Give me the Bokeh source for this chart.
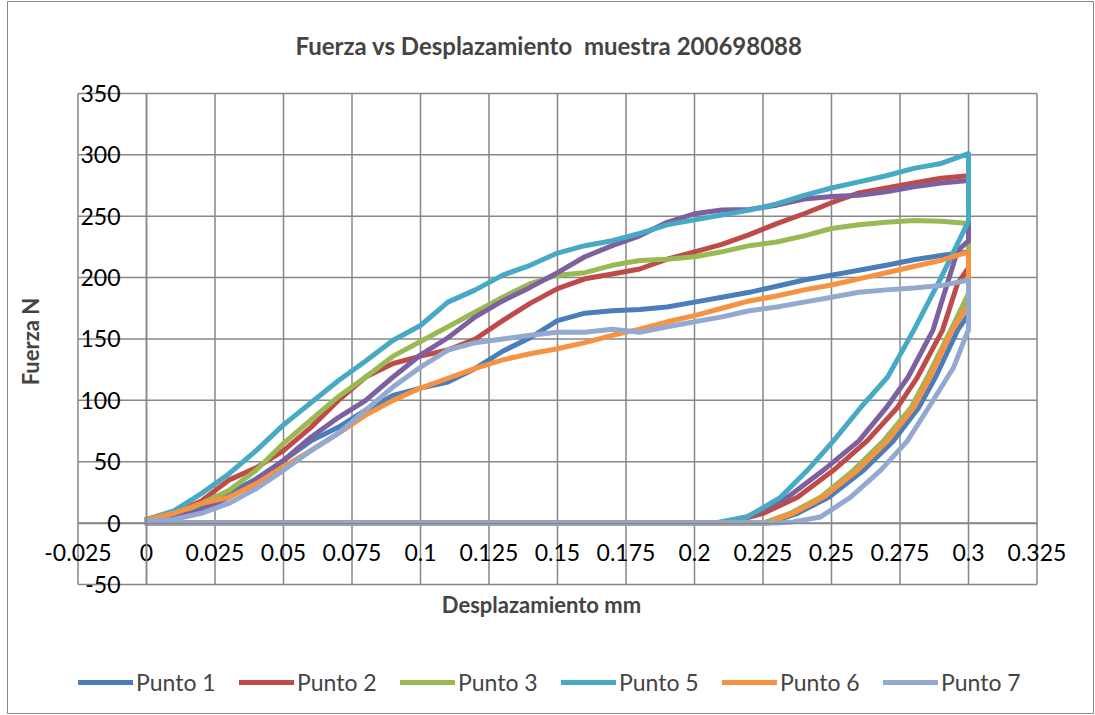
import math
from bokeh.plotting import figure
from bokeh.models import (LinearAxis, FixedTicker, PrintfTickFormatter, Legend,
                          LegendItem, Range1d, Label)
from bokeh.embed import file_html
from bokeh.resources import INLINE

# ---- data ----
X_TICKS = [-0.025, 0, 0.025, 0.05, 0.075, 0.1, 0.125, 0.15, 0.175, 0.2,
           0.225, 0.25, 0.275, 0.3, 0.325]
Y_TICKS = [-50, 0, 50, 100, 150, 200, 250, 300, 350]

X_LOAD = [0, 0.01, 0.02, 0.03, 0.04, 0.05, 0.06, 0.07, 0.08, 0.09, 0.1,
          0.11, 0.12, 0.13, 0.14, 0.15, 0.16, 0.17, 0.18, 0.19, 0.2,
          0.21, 0.22, 0.23, 0.24, 0.25, 0.26, 0.27, 0.28, 0.29, 0.3]

p1_load = [3, 4.5, 12, 24, 36, 51, 67, 78, 92, 104, 110, 115, 126, 140, 151,
           165, 171, 173, 174, 176, 180, 184, 188, 193, 198, 202, 206, 210,
           214.5, 218, 221]
p1_unx = [0.3, 0.296, 0.288, 0.2818, 0.2726, 0.2617, 0.249, 0.2376, 0.227, 0.0]
p1_uny = [170, 157, 119, 94, 67, 43, 21, 8, 0, 0]

p2_load = [3, 8, 18, 35, 45, 59, 78, 100, 119, 130, 136, 141, 150, 165, 179,
           191, 199, 203, 207, 215, 221, 227, 235, 244, 252, 261, 269, 273,
           277, 281, 283]
p2_unx = [0.3, 0.296, 0.2905, 0.2814, 0.274, 0.263, 0.2507, 0.2376, 0.2252, 0.212, 0.0]
p2_uny = [208, 195, 157, 119, 94, 67, 43, 21, 8, 0, 0]

p3_load = [3, 6, 16, 26.5, 43, 65, 84, 103, 119, 136, 148, 160, 172, 184, 195,
           202, 204, 210, 214, 215, 217, 221, 226, 229, 234, 240, 243, 245,
           246.5, 246, 244]
p3_unx = [0.3, 0.2935, 0.285, 0.279, 0.269, 0.258, 0.246, 0.235, 0.225, 0.0]
p3_uny = [187, 157, 119, 94, 67, 43, 21, 8, 0, 0]

p4_load = [3, 5, 10, 21, 35, 51, 70, 86, 100, 119, 137, 151, 168, 181, 192,
           204, 217, 226, 234, 245, 252, 255, 255.5, 259, 264, 266, 267, 270,
           274, 277, 279]
p4_unx = [0.3, 0.296, 0.287, 0.278, 0.27, 0.26, 0.247, 0.234, 0.219, 0.208, 0.0]
p4_uny = [230, 222, 157, 119, 94, 67, 43, 21, 5, 0, 0]

p5_load = [3, 10, 24, 40, 59, 80, 98, 116, 132, 149, 161, 180, 190, 202, 210,
           220, 226, 230, 236, 243, 247, 251, 255, 260, 267, 273, 278, 283,
           289, 293, 301]
p5_unx = [0.3, 0.29, 0.28, 0.2705, 0.2606, 0.2507, 0.2412, 0.2314, 0.2193, 0.207, 0.0]
p5_uny = [246, 200, 157, 119, 94, 67, 43, 21, 5, 0, 0]

p6_load = [3, 8, 16, 21, 32, 46, 59, 73, 88, 100, 110, 118, 126, 133, 138,
           142, 147, 153, 158, 164, 169, 175, 181, 185, 190, 194, 199, 204,
           209, 214, 221]
p6_unx = [0.3, 0.294, 0.286, 0.28, 0.2704, 0.2595, 0.247, 0.236, 0.226, 0.0]
p6_uny = [178, 157, 119, 94, 67, 43, 21, 8, 0, 0]

p7_load = [2, 3, 8, 16, 28, 43, 59, 73, 92, 111, 127, 141, 147, 150, 153,
           155.5, 155.5, 158, 155.5, 160, 164, 168, 173, 176, 180, 184, 188,
           190, 191.5, 193.5, 198]
p7_unx = [0.3, 0.2995, 0.2946, 0.2854, 0.2777, 0.2679, 0.2569, 0.246, 0.236, 0.23, 0.0]
p7_uny = [157, 155, 127, 94, 67, 43, 21, 5, 1, 0, 0]

series = [
    ("Punto 1", "#4A7EBB", p1_load, p1_unx, p1_uny, True),
    ("Punto 2", "#BE4B48", p2_load, p2_unx, p2_uny, True),
    ("Punto 3", "#98B954", p3_load, p3_unx, p3_uny, True),
    ("Punto 4", "#7D60A0", p4_load, p4_unx, p4_uny, False),
    ("Punto 5", "#46AAC5", p5_load, p5_unx, p5_uny, True),
    ("Punto 6", "#F69240", p6_load, p6_unx, p6_uny, True),
    ("Punto 7", "#93A9CF", p7_load, p7_unx, p7_uny, True),
]

TITLE = "Fuerza vs Desplazamiento\u00a0 muestra 200698088"
XLABEL = "Desplazamiento mm"
YLABEL = "Fuerza N"

# ---- layout (pixel geometry of the chart) ----
W, H = 1095, 715
PX0, PXU = 146.0, 2740.0      # pixel of x=0, pixels per x unit
PY0, PYU = 522.6, 1.2275      # pixel of y=0, pixels per y unit


def dx(px):
    return (px - PX0) / PXU


def dy(py):
    return (PY0 - py) / PYU


FONT = "Lato"
GRID = "#878787"

p = figure(width=W, height=H, title=None,
           x_range=Range1d(dx(0), dx(W)), y_range=Range1d(dy(H), dy(0)),
           output_backend="svg", toolbar_location=None,
           x_axis_location=None, y_axis_location=None, min_border=0)
p.outline_line_color = None
p.background_fill_color = "white"
p.border_fill_color = "white"
p.xgrid.visible = False
p.ygrid.visible = False

# outer chart border
p.quad(left=dx(7), right=dx(1093), top=dy(1), bottom=dy(713),
       fill_color=None, line_color=GRID, line_width=1)

# gridlines / plot-area box
p.segment(x0=X_TICKS, y0=[Y_TICKS[0]] * len(X_TICKS),
          x1=X_TICKS, y1=[Y_TICKS[-1]] * len(X_TICKS),
          line_color=GRID, line_width=1.5)
p.segment(x0=[X_TICKS[0]] * len(Y_TICKS), y0=Y_TICKS,
          x1=[X_TICKS[-1]] * len(Y_TICKS), y1=Y_TICKS,
          line_color=GRID, line_width=1.5)

xa = LinearAxis(fixed_location=0, ticker=FixedTicker(ticks=X_TICKS),
                formatter=PrintfTickFormatter(format="%g"),
                bounds=(X_TICKS[0], X_TICKS[-1]))
ya = LinearAxis(fixed_location=0, ticker=FixedTicker(ticks=Y_TICKS),
                formatter=PrintfTickFormatter(format="%g"),
                bounds=(Y_TICKS[0], Y_TICKS[-1]))
for ax in (xa, ya):
    ax.major_tick_line_color = None
    ax.minor_tick_line_color = None
    ax.major_tick_out = 0
    ax.major_tick_in = 0
    ax.minor_tick_out = 0
    ax.minor_tick_in = 0
    ax.axis_line_color = GRID
    ax.axis_line_width = 1.5
    ax.major_label_text_font = FONT
    ax.major_label_text_font_size = "23px"
    ax.major_label_text_color = "black"
xa.major_label_standoff = 21
ya.major_label_standoff = 26
p.add_layout(xa, "below")
p.add_layout(ya, "left")

p.add_layout(Label(x=dx(548.5), y=dy(45), text=TITLE, text_align="center",
                   text_baseline="middle", text_font=FONT,
                   text_font_style="bold", text_font_size="24px"))
p.add_layout(Label(x=dx(541), y=dy(604), text=XLABEL, text_align="center",
                   text_baseline="middle", text_font=FONT,
                   text_font_style="bold", text_font_size="22px"))
p.add_layout(Label(x=dx(30), y=dy(341), text=YLABEL, text_align="center",
                   text_baseline="middle", text_font=FONT, angle=math.pi / 2,
                   text_font_style="bold", text_font_size="22px"))

items = []
for name, color, yl, ux, uy, in_legend in series:
    xs = X_LOAD + ux
    ys = yl + uy
    r = p.line(xs, ys, line_color=color, line_width=5, line_join="round",
               line_cap="round")
    if in_legend:
        items.append(LegendItem(label=name, renderers=[r]))

legend = Legend(items=items, location=(78, 19), orientation="horizontal",
                glyph_width=55, glyph_height=20, label_standoff=3,
                label_width=86, spacing=17, padding=4,
                border_line_color=None, background_fill_alpha=0,
                label_text_font=FONT, label_text_font_size="23px")
p.add_layout(legend)

open("out.html", "w").write(file_html(p, INLINE))
